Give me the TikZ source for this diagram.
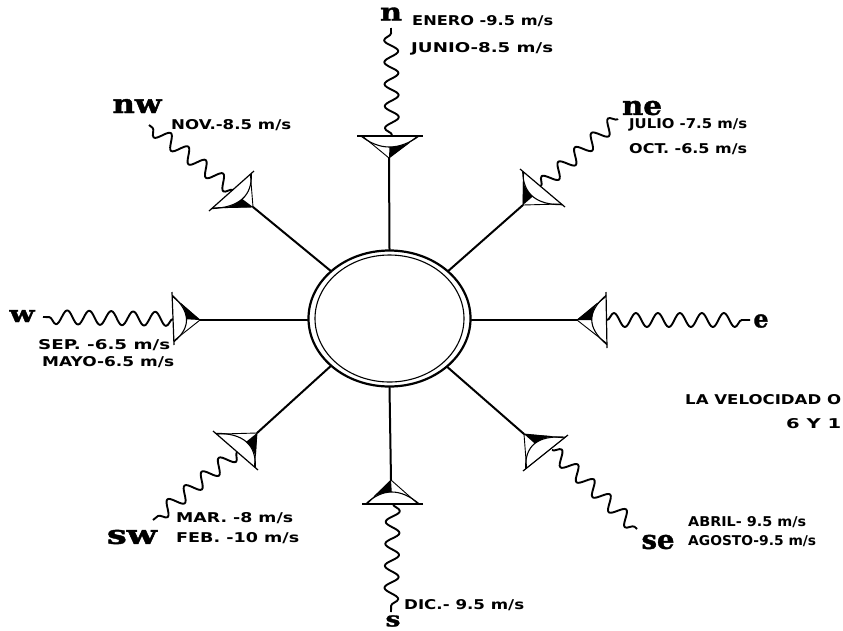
\documentclass[tikz,border=0pt]{standalone}
\usepackage{fontspec}
\setmainfont{DejaVu Sans}
\newfontfamily\dirfont{DejaVu Serif}[BoldFeatures={FakeBold=1.5}]
\usetikzlibrary{calc,decorations.pathmorphing,shapes.geometric}
\tikzset{
  x=1pt,y=-1pt,
  spoke/.style={line width=2pt,line cap=round},
  wave/.style={line width=1.9pt,line join=round,decorate,decoration={snake,amplitude=7pt,segment length=22pt}},
  ring/.style={draw,ellipse,inner sep=0pt},
  dirlabel/.style={inner sep=0pt},
  speed/.style={inner sep=0pt,anchor=west}
}
\newcommand{\dish}[3]{%
  \fill ($(#1)!.5!($(#2)!.5!(#3)$)$) -- ($(#1)!.545!($(#2)!.775!(#3)$)$) -- ($(#1)!.68!($(#2)!.941!(#3)$)$) -- (#1) -- cycle;
  \draw[line width=1.1pt] ($(#2)!.06!(#3)$) .. controls ($($(#2)!.06!(#3)$)!.667!(#1)$) and ($($(#3)!.06!(#2)$)!.667!(#1)$) .. ($(#3)!.06!(#2)$);
  \draw[line width=.9pt] ($(#2)!.08!(#3)$) -- (#1) -- ($(#3)!.08!(#2)$);
  \draw[line width=1.2pt] (#2) -- (#3);
}
\newcommand{\spd}[5]{\node[speed] (#1) at (#2,#3) {\resizebox{#4pt}{10pt}{\textbf{#5}}};}
\newcommand{\dirl}[6]{\node[dirlabel] (#1) at (#2,#3) {\resizebox{#4pt}{#5pt}{\dirfont\bfseries #6}};}
\begin{document}
\begin{tikzpicture}
\useasboundingbox (0,0) rectangle (843,630);
% apexes and dish ends
\coordinate (an) at (389,158); \coordinate (n1) at (357,136); \coordinate (n2) at (423,136);
\coordinate (ane) at (523,205); \coordinate (ne1) at (565,207); \coordinate (ne2) at (520,169);
\coordinate (ae) at (577,320); \coordinate (e1) at (606,292); \coordinate (e2) at (607,348);
\coordinate (ase) at (524,434); \coordinate (se1) at (523,471); \coordinate (se2) at (568,435);
\coordinate (as) at (391,480); \coordinate (s1) at (423,504); \coordinate (s2) at (362,504);
\coordinate (asw) at (257,433); \coordinate (sw1) at (213,431); \coordinate (sw2) at (258,470);
\coordinate (aw) at (200,320); \coordinate (w1) at (174,345); \coordinate (w2) at (172,292);
\coordinate (anw) at (253,207); \coordinate (nw1) at (254,171); \coordinate (nw2) at (209,211);
% wave ends
\coordinate (wn0) at (392,135); \coordinate (wn1) at (391,28);
\coordinate (wne0) at (541,186); \coordinate (wne1) at (618,119);
\coordinate (we0) at (607,320); \coordinate (we1) at (750,320);
\coordinate (wse0) at (552,450); \coordinate (wse1) at (637,529);
\coordinate (ws0) at (393,504); \coordinate (ws1) at (391,612);
\coordinate (wsw0) at (237,452); \coordinate (wsw1) at (153,520);
\coordinate (ww0) at (173,319); \coordinate (ww1) at (43,317);
\coordinate (wnw0) at (233,190); \coordinate (wnw1) at (149,125);
% hub
\node[ring,line width=2.2pt,minimum width=162pt,minimum height=136pt] (hub) at (389.5,318.5) {};
\node[ring,line width=1.1pt,minimum width=149pt,minimum height=127pt] (hubin) at (389.5,318.5) {};
% spokes
\draw[spoke] (hub.90) -- (an);
\draw[spoke] (hub.39) -- (ane);
\draw[spoke] (hub.0 |- ae) -- (ae);
\draw[spoke] (hub.-40) -- (ase);
\draw[spoke] (hub.-90) -- (as);
\draw[spoke] (hub.-141) -- (asw);
\draw[spoke] (hub.180 |- aw) -- (aw);
\draw[spoke] (hub.141) -- (anw);
% dishes
\dish{an}{n1}{n2}
\dish{ane}{ne1}{ne2}
\dish{ae}{e2}{e1}
\dish{ase}{se1}{se2}
\dish{as}{s1}{s2}
\dish{asw}{sw1}{sw2}
\dish{aw}{w1}{w2}
\dish{anw}{nw1}{nw2}
% waves
\draw[wave] (wn0) -- (wn1);
\draw[wave] (wne0) -- (wne1);
\draw[wave] (we0) -- (we1);
\draw[wave] (wse0) -- (wse1);
\draw[wave] (ws0) -- (ws1);
\draw[wave] (wsw0) -- (wsw1);
\draw[wave] (ww0) -- (ww1);
\draw[wave] (wnw0) -- (wnw1);
% direction letters
\dirl{ln}{391}{14}{22}{13}{n}
\dirl{lnw}{137}{106}{49}{14}{nw}
\dirl{lne}{642}{108}{40}{14}{ne}
\dirl{le}{761}{321}{15}{13}{e}
\dirl{lse}{658}{542}{33}{14}{se}
\dirl{ls}{393}{621}{15}{11}{s}
\dirl{lsw}{132}{537}{50}{14}{sw}
\dirl{lw}{22}{316}{25}{12}{w}
% speed labels
\spd{t1}{412}{21}{141}{ENERO -9.5 m/s}
\spd{t2}{411}{49}{142}{JUNIO-8.5 m/s}
\spd{t3}{171}{125}{120}{NOV.-8.5 m/s}
\spd{t4}{629}{125}{118}{JULIO -7.5 m/s}
\spd{t5}{629}{149}{118}{OCT. -6.5 m/s}
\spd{t6}{38}{345}{132}{SEP. -6.5 m/s}
\spd{t7}{42}{362}{132}{MAYO-6.5 m/s}
\spd{t8}{176}{518}{117}{MAR. -8 m/s}
\spd{t9}{176}{538}{123}{FEB. -10 m/s}
\spd{t10}{404}{605}{120}{DIC.- 9.5 m/s}
\spd{t11}{688}{522}{118}{ABRIL- 9.5 m/s}
\spd{t12}{688}{541}{128}{AGOSTO-9.5 m/s}
\spd{t13}{685}{400}{156}{LA VELOCIDAD O}
\spd{t14}{786}{424}{55}{6 Y 1}
\end{tikzpicture}
\end{document}
